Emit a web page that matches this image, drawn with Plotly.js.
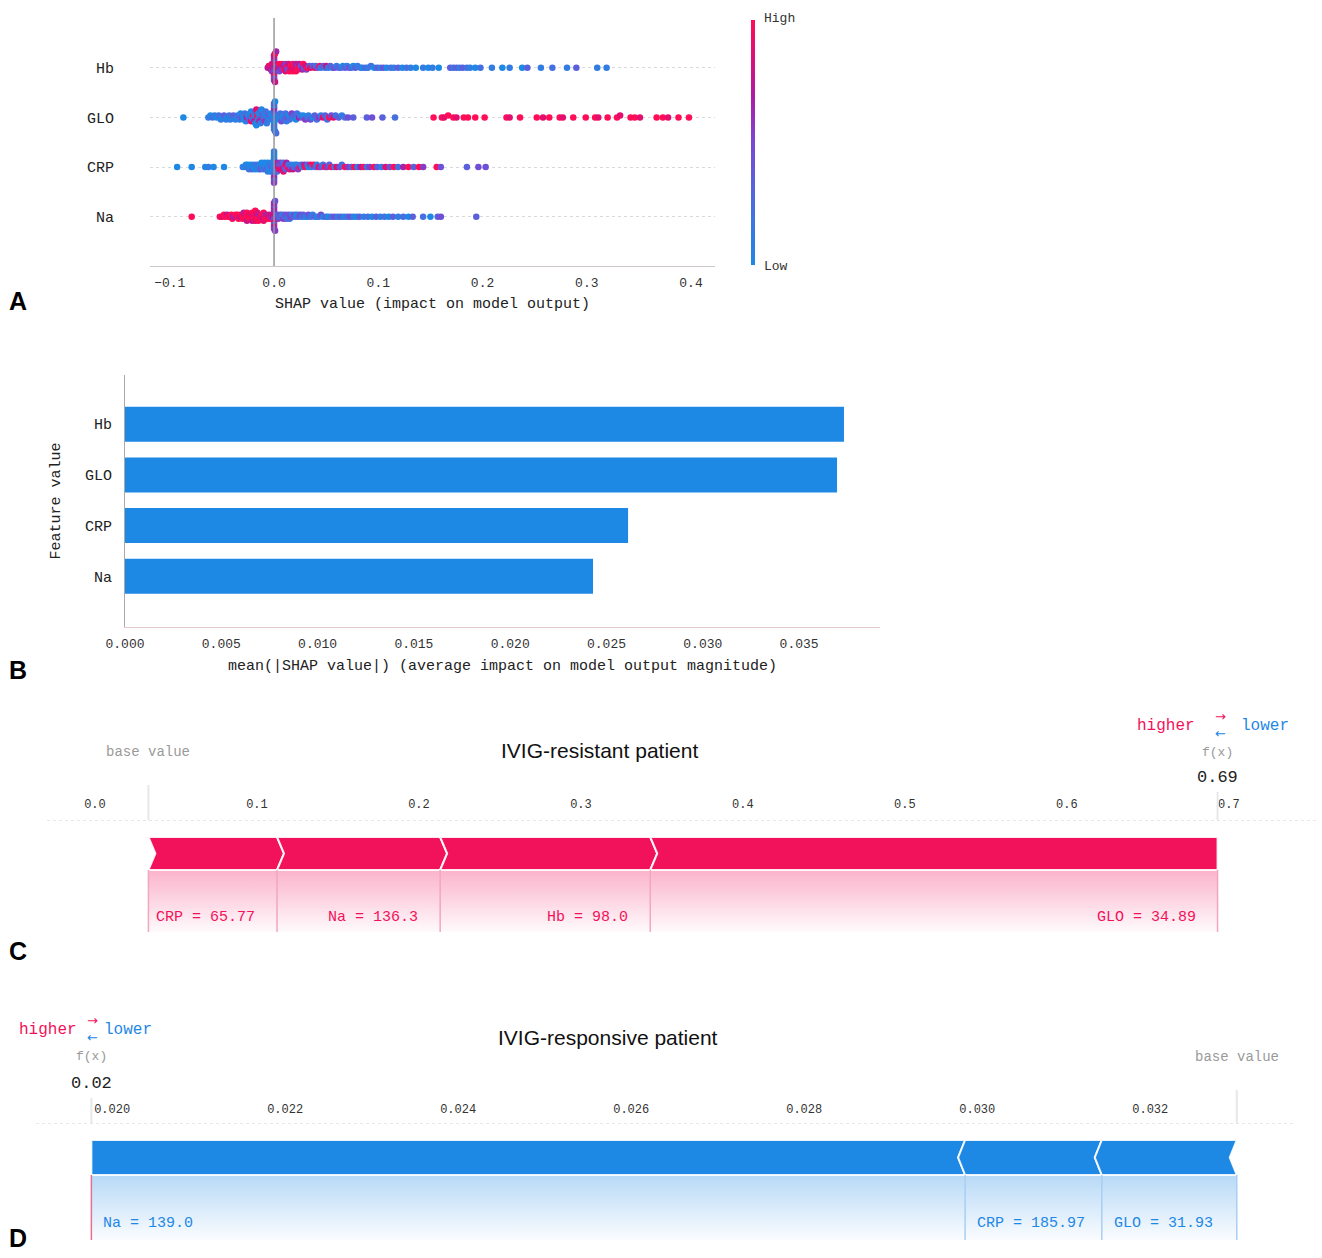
<!DOCTYPE html>
<html><head><meta charset="utf-8">
<script src="https://cdn.plot.ly/plotly-3.0.1.min.js"></script>
<style>body{margin:0;background:#fff}#chart{width:1322px;height:1258px}</style>
</head><body><div id="chart"></div>
<script>
// ---------------- DATA ----------------
const features = ['Hb','GLO','CRP','Na'];

// Panel A: SHAP values per sample and feature value (0 = low ... 9 = high)
const hbShap = [-0.006,-0.005,-0.004,-0.003,-0.003,-0.002,-0.002,-0.001,-0.001,-0.001,
0,0,0,0,0,0,0,0,0,0,0,0,
0.001,0.001,
0.002,0.003,0.003,0.004,0.005,0.005,0.006,0.007,0.007,0.008,
0.009,0.009,0.010,0.011,0.011,0.012,0.013,0.013,0.014,0.015,
0.016,0.016,0.017,0.018,0.018,0.019,0.019,0.020,0.021,0.021,
0.022,0.023,0.023,0.024,0.025,0.026,0.027,0.028,0.029,0.030,
0.031,0.032,0.034,0.035,
0.037,0.039,0.040,0.042,0.044,0.045,0.047,0.049,0.050,0.052,
0.054,0.056,0.058,0.060,0.062,0.064,0.066,0.068,0.070,0.072,
0.074,0.076,0.078,0.080,0.083,0.085,0.088,0.090,0.093,0.096,
0.099,0.102,0.105,0.108,0.112,0.115,0.119,0.123,0.127,0.131,
0.136,0.143,0.148,0.152,0.158,0.169,0.172,0.175,0.178,0.181,
0.185,0.188,0.193,0.198,0.209,0.219,0.226,0.238,0.243,0.256,
0.267,0.281,0.290,0.310,0.319];
const hbColor = [7,8,6,9,7,8,5,9,7,6,
6,5,8,4,7,6,5,9,6,4,7,5,
9,7,
6,8,5,7,9,4,6,8,5,9,
4,7,9,5,8,6,9,4,7,9,
6,9,8,9,9,7,9,8,6,9,
8,5,9,7,9,4,6,9,3,7,
5,9,3,8,
3,8,2,4,9,1,3,2,7,1,
3,2,4,1,3,2,0,3,1,4,
2,0,3,1,2,0,3,1,2,0,
3,1,4,0,2,1,3,0,2,1,
0,1,0,1,0,3,2,3,1,3,
2,1,0,2,1,0,1,0,3,1,
2,1,3,1,1];

const gloShap = [-0.087,
-0.063,-0.061,-0.059,-0.057,-0.055,-0.053,-0.051,-0.050,-0.048,-0.046,
-0.045,-0.043,-0.042,-0.040,-0.039,-0.037,-0.036,-0.035,-0.033,-0.032,
-0.031,-0.030,-0.029,-0.028,-0.027,-0.026,-0.025,-0.024,-0.023,-0.022,
-0.022,-0.021,-0.020,-0.020,-0.019,-0.019,-0.018,-0.018,-0.017,-0.017,
-0.016,-0.016,-0.015,-0.015,-0.014,-0.013,-0.013,-0.012,-0.011,-0.011,
-0.010,-0.009,-0.009,-0.008,-0.007,-0.006,-0.005,-0.004,-0.003,
-0.001,-0.001,0,0,0,0,0,0,0,0,0,0,0,0,0.001,0.001,
0.002,0.003,0.004,0.005,0.006,0.007,0.008,0.009,0.010,0.011,
0.012,0.013,0.014,0.015,0.017,0.018,0.019,0.021,0.022,0.024,
0.025,0.027,0.028,0.030,0.032,0.033,0.035,0.037,0.039,0.041,
0.043,0.045,0.047,0.049,0.051,0.053,0.055,0.057,0.059,0.062,
0.065,0.068,0.071,0.076,0.089,0.094,0.104,0.116,
0.153,0.161,0.163,0.167,0.172,0.175,0.182,0.186,0.193,0.202,
0.223,0.226,0.236,0.252,0.258,0.264,0.274,0.277,0.287,0.299,
0.308,0.311,0.320,0.329,0.332,0.342,0.346,0.351,0.367,0.373,
0.378,0.388,0.398];
const gloColor = [0,
1,0,2,1,0,2,1,0,3,1,
0,2,1,0,3,1,0,2,1,0,
4,1,0,2,1,6,0,3,1,8,
0,2,9,1,0,7,3,1,8,0,
2,9,1,0,6,2,1,0,8,3,
1,0,5,2,1,0,3,1,0,
2,0,0,2,1,3,0,4,1,6,2,0,1,3,1,0,
2,3,1,0,2,4,1,0,3,2,
1,4,0,2,5,1,3,0,2,6,
1,3,0,5,2,1,4,0,3,2,
5,1,8,3,2,9,4,8,2,3,
1,2,4,3,3,4,3,2,
9,9,8,9,9,8,9,9,9,9,
9,8,9,9,8,9,9,8,9,9,
9,8,9,9,8,9,9,8,9,9,
8,9,9];

const crpShap = [-0.093,-0.079,-0.066,-0.063,-0.058,-0.048,
-0.030,-0.028,-0.027,-0.026,-0.025,-0.024,-0.023,-0.022,-0.021,-0.020,
-0.019,-0.018,-0.017,-0.016,-0.015,-0.014,-0.013,-0.013,-0.012,-0.011,
-0.010,-0.010,-0.009,-0.008,-0.008,-0.007,-0.006,-0.006,-0.005,-0.004,
-0.004,-0.003,-0.003,-0.002,
-0.001,-0.001,0,0,0,0,0,0,0,0,0,0,0,0,0.001,0.001,
0.002,0.003,0.003,0.004,0.005,0.005,0.006,0.007,0.007,0.008,
0.009,0.009,0.010,0.011,0.011,0.012,0.013,0.014,0.015,0.016,
0.017,0.018,0.019,0.020,0.021,0.022,0.023,0.025,0.026,0.027,
0.029,0.030,0.032,0.033,0.035,0.036,0.038,0.040,0.041,0.043,
0.045,0.047,0.049,0.051,0.053,0.055,0.058,0.060,0.063,0.065,
0.068,0.071,0.074,0.077,0.080,0.083,0.086,0.089,0.092,0.096,
0.099,0.103,0.107,0.111,0.115,0.119,0.124,0.129,0.134,0.139,
0.143,0.156,0.160,0.185,0.196,0.203];
const crpColor = [0,0,0,1,0,0,
1,0,0,2,0,1,0,0,3,0,
1,0,0,2,0,1,0,3,0,1,
0,2,0,1,0,3,0,1,0,2,
0,1,0,4,
1,0,0,1,0,2,0,4,1,6,0,3,1,5,2,0,
4,6,2,7,3,8,5,9,4,7,
2,8,5,9,3,6,9,2,8,4,
1,7,2,0,3,1,5,9,2,1,
6,9,3,0,8,2,9,3,1,8,
4,2,9,5,3,9,1,8,4,2,
9,5,3,9,1,6,9,2,5,9,
3,1,8,4,9,2,6,9,3,9,
5,9,4,3,4,4];

const naShap = [-0.079,
-0.052,-0.050,-0.048,-0.047,-0.045,-0.044,-0.042,-0.041,-0.040,-0.039,
-0.037,-0.036,-0.035,-0.034,-0.033,-0.032,-0.031,-0.030,-0.030,-0.029,
-0.028,-0.028,-0.027,-0.026,-0.026,-0.025,-0.024,-0.024,-0.023,-0.022,
-0.022,-0.021,-0.021,-0.020,-0.020,-0.019,-0.019,-0.018,-0.018,-0.017,
-0.017,-0.016,-0.016,-0.015,-0.014,-0.014,-0.013,-0.012,-0.012,-0.011,
-0.010,-0.010,-0.009,-0.008,-0.007,-0.006,-0.005,-0.004,-0.003,-0.002,
-0.001,-0.001,0,0,0,0,0,0,0,0,0,0,0,0,0.001,0.001,
0.002,0.003,0.004,0.005,0.006,0.007,0.008,0.009,0.010,0.011,
0.012,0.013,0.014,0.015,0.016,0.017,0.018,0.020,0.021,0.022,
0.024,0.025,0.027,0.028,0.030,0.032,0.033,0.035,0.037,0.039,
0.041,0.043,0.045,0.047,0.050,0.052,0.055,0.058,0.061,0.064,
0.067,0.070,0.073,0.076,0.079,0.082,0.086,0.090,0.094,0.098,
0.102,0.106,0.110,0.114,0.119,0.124,0.129,0.133,0.143,0.150,
0.157,0.160,0.194];
const naColor = [9,
9,8,9,9,7,9,8,9,9,6,
9,8,9,9,7,9,8,9,9,6,
9,8,9,9,7,9,8,9,9,8,
9,9,7,9,8,9,9,8,9,9,
7,9,8,9,9,6,9,8,9,7,
9,8,9,6,9,8,7,9,6,8,
6,7,5,7,4,6,8,5,3,6,7,4,5,6,5,4,
4,3,5,2,4,3,1,5,2,4,
3,1,4,2,5,1,3,4,2,0,
3,4,1,3,2,0,4,2,1,3,
0,2,4,1,3,0,2,4,1,3,
0,2,4,1,0,3,1,2,0,3,
1,2,0,3,1,2,0,3,2,0,
3,4,3];
const shapTicks = [-0.1,0,0.1,0.2,0.3,0.4];

// Panel B: mean |SHAP|
const meanAbsShap = [0.03733,0.03697,0.02612,0.02430];   // Hb, GLO, CRP, Na
const barTicks = [0,0.005,0.010,0.015,0.020,0.025,0.030,0.035];

// Panels C, D: force plots
const baseValue = 0.033;
const resistantTitle = 'IVIG-resistant patient';
const resistantLabels = ['CRP = 65.77','Na = 136.3','Hb = 98.0','GLO = 34.89'];
const resistantShap = [0.0794,0.1007,0.1297,0.3502];
const resistantTicks = [0,0.1,0.2,0.3,0.4,0.5,0.6,0.7];
const responsiveTitle = 'IVIG-responsive patient';
const responsiveLabels = ['Na = 139.0','CRP = 185.97','GLO = 31.93'];
const responsiveShap = [-0.0101,-0.00158,-0.00156];
const responsiveTicks = [0.020,0.022,0.024,0.026,0.028,0.030,0.032];

// ---------------- LAYOUT HELPERS ----------------
const W=1322,H=1258;
const PX=x=>x/W, PY=y=>1-y/H;
const mono='Liberation Mono, DejaVu Sans Mono, monospace';
const sans='Liberation Sans Narrow, Liberation Sans, Arial, sans-serif';
const RED='#F2115B', BLUE='#1E88E5';
const shapScale=[[0,'#1E88E5'],[0.25,'#4A6DE0'],[0.5,'#7B47D4'],[0.7,'#B01A9E'],[0.85,'#DB0F78'],[1,'#FF0D57']];

function swarmOffsets(vals,rowHeight){
  const n=vals.length, mn=Math.min(...vals), mx=Math.max(...vals), nb=100;
  const q=vals.map(v=>Math.round(nb*(v-mn)/(mx-mn+1e-8)));
  const order=vals.map((_,i)=>i).sort((a,b)=>(q[a]-q[b])||(a-b));
  const ys=new Array(n).fill(0); let layer=0,last=-1;
  order.forEach(i=>{ if(q[i]!==last) layer=0; ys[i]=Math.ceil(layer/2)*((layer%2)*2-1); layer++; last=q[i]; });
  const m=Math.max(...ys.map(y=>y+1));
  return ys.map(y=>y*0.9*rowHeight/m);
}
const rowOf=f=>features.length-1-features.indexOf(f);
const rowText=[...features].reverse();

const traces=[], shapes=[], annotations=[];

// ---------- Panel A ----------
[['Hb',hbShap,hbColor],['GLO',gloShap,gloColor],['CRP',crpShap,crpColor],['Na',naShap,naColor]].forEach(([f,s,c],k)=>{
  const off=swarmOffsets(s,0.4), r=rowOf(f);
  traces.push({type:'scatter',mode:'markers',x:s,y:off.map(o=>r+o),xaxis:'x',yaxis:'y',hoverinfo:'skip',showlegend:false,
    marker:{size:6.5,color:c,cmin:0,cmax:9,colorscale:shapScale,line:{width:0},showscale:k===0,
      colorbar:{x:PX(751),xanchor:'left',xpad:0,y:PY(142.5),yanchor:'middle',ypad:0,len:245/H,lenmode:'fraction',
        thickness:4,outlinewidth:0,showticklabels:false,ticks:'',title:{text:''}}}});
});
shapes.push({type:'line',xref:'x',yref:'y domain',x0:0,x1:0,y0:0,y1:1,line:{color:'#999',width:1.5}});
annotations.push({xref:'paper',yref:'paper',x:PX(762),y:PY(18),text:'High',showarrow:false,xanchor:'left',yanchor:'middle',font:{family:mono,size:13,color:'#333'}});
annotations.push({xref:'paper',yref:'paper',x:PX(762),y:PY(267),text:'Low',showarrow:false,xanchor:'left',yanchor:'middle',font:{family:mono,size:13,color:'#333'}});

// ---------- Panel B ----------
traces.push({type:'bar',orientation:'h',x:meanAbsShap,y:features.map(rowOf),width:0.69,xaxis:'x2',yaxis:'y2',
  marker:{color:BLUE,line:{width:0}},hoverinfo:'skip',showlegend:false});

// ---------- Force plots ----------
function forcePlot(xa,ya,shap,labels,color,lineColor,fxLineColor,pxPerUnit,yTop,yBot,yGrad){
  const sum=shap.reduce((a,b)=>a+b,0), fx=baseValue+sum;
  const pos=sum>0, dir=pos?1:-1, n=7/pxPerUnit, M=(yTop+yBot)/2;
  let a=pos?baseValue:fx;
  const lo=Math.min(baseValue,fx), hi=Math.max(baseValue,fx);
  const rgb=pos?'242,17,91':'30,136,229';
  traces.push({type:'scatter',mode:'lines',x:[lo,hi,hi,lo,lo],y:[yBot,yBot,yGrad,yGrad,yBot],xaxis:xa,yaxis:ya,
    fill:'toself',line:{width:0},hoverinfo:'skip',showlegend:false,
    fillgradient:{type:'vertical',start:yGrad,stop:yBot,colorscale:[[0,'rgba('+rgb+',0.02)'],[1,'rgba('+rgb+',0.32)']]}});
  const bounds=[a];
  shap.forEach((v,i)=>{
    const b=a+Math.abs(v);
    const last=i===shap.length-1;
    const lm=(!pos && i===0)?a:a+dir*n;
    const rm=(pos && last)?b:b+dir*n;
    traces.push({type:'scatter',mode:'lines',x:[a,b,rm,b,a,lm,a],y:[yTop,yTop,M,yBot,yBot,M,yTop],xaxis:xa,yaxis:ya,
      fill:'toself',fillcolor:color,line:{color:'rgba(255,255,255,0.9)',width:2},hoverinfo:'skip',showlegend:false});
    annotations.push({xref:xa,yref:ya,x:pos?b:a,y:(yGrad+yBot)/2-16,text:labels[i],showarrow:false,
      xanchor:pos?'right':'left',xshift:pos?-20:10,yanchor:'middle',font:{family:mono,size:15,color:color}});
    a=b; bounds.push(b);
  });
  bounds.forEach(x=>{
    const isFx=Math.abs(x-fx)<1e-9;
    shapes.push({type:'line',xref:xa,yref:ya,x0:x,x1:x,y0:yBot,y1:yGrad,line:{color:isFx?fxLineColor:lineColor,width:1.5}});
  });
  shapes.push({type:'line',xref:xa+' domain',yref:ya,x0:0,x1:1,y0:0,y1:0,line:{color:'#cfcfcf',width:1,dash:'dot'}});
  return fx;
}
const fxC=forcePlot('x3','y3',resistantShap,resistantLabels,RED,'#F2A6C0','#F2A6C0',1620,-17,-50,-112);
const fxD=forcePlot('x4','y4',responsiveShap,responsiveLabels,BLUE,'#A9CFF3','#E8708F',86511,-17,-52,-117);

// vertical guide lines above axes
shapes.push({type:'line',xref:'x3',yref:'paper',x0:baseValue,x1:baseValue,y0:PY(820),y1:PY(785),line:{color:'#e4e8ea',width:2}});
shapes.push({type:'line',xref:'x3',yref:'paper',x0:fxC,x1:fxC,y0:PY(820),y1:PY(792),line:{color:'#e4e8ea',width:2}});
shapes.push({type:'line',xref:'x4',yref:'paper',x0:fxD,x1:fxD,y0:PY(1123),y1:PY(1098),line:{color:'#e4e8ea',width:2}});
shapes.push({type:'line',xref:'x4',yref:'paper',x0:baseValue,x1:baseValue,y0:PY(1123),y1:PY(1090),line:{color:'#e4e8ea',width:2}});

// Texts C
const txt=(o)=>annotations.push(Object.assign({showarrow:false,xanchor:'center',yanchor:'middle'},o));
const arrows='<span style="color:'+RED+'">→</span><br><span style="color:'+BLUE+'">←</span>';
txt({xref:'x3',yref:'paper',x:baseValue,y:PY(752),text:'base value',font:{family:mono,size:14,color:'#9a9a9a'}});
txt({xref:'paper',yref:'paper',x:PX(599),y:PY(750),text:resistantTitle,font:{family:sans,size:21,color:'#111'}});
txt({xref:'x3',yref:'paper',x:fxC,y:PY(752),text:'f(x)',font:{family:mono,size:13,color:'#9a9a9a'}});
txt({xref:'x3',yref:'paper',x:fxC,y:PY(777),text:fxC.toFixed(2),font:{family:mono,size:17,color:'#222'}});
txt({xref:'paper',yref:'paper',x:PX(1197),y:PY(726),xanchor:'right',text:'higher',font:{family:mono,size:16,color:RED}});
txt({xref:'paper',yref:'paper',x:PX(1220),y:PY(725),text:arrows,font:{family:'DejaVu Sans, sans-serif',size:13,color:RED}});
txt({xref:'paper',yref:'paper',x:PX(1239),y:PY(726),xanchor:'left',text:'lower',font:{family:mono,size:16,color:BLUE}});

// Texts D
txt({xref:'paper',yref:'paper',x:PX(79),y:PY(1030),xanchor:'right',text:'higher',font:{family:mono,size:16,color:RED}});
txt({xref:'paper',yref:'paper',x:PX(92),y:PY(1029),text:arrows,font:{family:'DejaVu Sans, sans-serif',size:13,color:RED}});
txt({xref:'paper',yref:'paper',x:PX(102),y:PY(1030),xanchor:'left',text:'lower',font:{family:mono,size:16,color:BLUE}});
txt({xref:'x4',yref:'paper',x:fxD,y:PY(1056),text:'f(x)',font:{family:mono,size:13,color:'#9a9a9a'}});
txt({xref:'x4',yref:'paper',x:fxD,y:PY(1083),text:fxD.toFixed(2),font:{family:mono,size:17,color:'#222'}});
txt({xref:'paper',yref:'paper',x:PX(608),y:PY(1037),text:responsiveTitle,font:{family:sans,size:21,color:'#111'}});
txt({xref:'x4',yref:'paper',x:baseValue,y:PY(1057),text:'base value',font:{family:mono,size:14,color:'#9a9a9a'}});

// Panel letters
[['A',301],['B',670],['C',951],['D',1238]].forEach(([t,y])=>txt({xref:'paper',yref:'paper',x:PX(18),y:PY(y),text:'<b>'+t+'</b>',font:{family:'Liberation Sans, Arial, sans-serif',size:25,color:'#000'}}));

const axBase={showgrid:false,zeroline:false,ticks:'',fixedrange:true};
const layout={
  width:W,height:H,margin:{l:0,r:0,t:0,b:0},paper_bgcolor:'#fff',plot_bgcolor:'rgba(0,0,0,0)',showlegend:false,
  font:{family:mono,size:13,color:'#333'},
  xaxis:Object.assign({},axBase,{domain:[PX(150),PX(715)],range:[-0.119,0.423],anchor:'y',tickvals:shapTicks,tickformat:'.1f',
    showline:true,linecolor:'#cdc6c6',ticklabelstandoff:4,tickfont:{family:mono,size:13,color:'#333'},
    title:{text:'SHAP value (impact on model output)',font:{family:mono,size:15,color:'#222'},standoff:7}}),
  yaxis:Object.assign({},axBase,{domain:[PY(266),PY(18)],range:[-0.99,4.0],anchor:'x',tickvals:[0,1,2,3],ticktext:rowText,
    showgrid:true,gridcolor:'#d9d9d9',griddash:'dot',gridwidth:1,showline:false,ticklabelstandoff:35,tickfont:{family:mono,size:15,color:'#222'}}),
  xaxis2:Object.assign({},axBase,{domain:[PX(125),PX(880)],range:[0,0.0392],anchor:'y2',tickvals:barTicks,tickformat:'.3f',
    showline:true,linecolor:'#e3c9cc',ticklabelstandoff:4,tickfont:{family:mono,size:13,color:'#333'},
    title:{text:'mean(|SHAP value|) (average impact on model output magnitude)',font:{family:mono,size:15,color:'#222'},standoff:8}}),
  yaxis2:Object.assign({},axBase,{domain:[PY(627),PY(375)],range:[-1,3.97],anchor:'x2',tickvals:[0,1,2,3],ticktext:rowText,
    showline:true,linecolor:'#aaa',ticklabelstandoff:9,tickfont:{family:mono,size:15,color:'#222'},
    title:{text:'Feature value',font:{family:mono,size:15,color:'#222'},standoff:20}}),
  xaxis3:Object.assign({},axBase,{domain:[PX(47),PX(1318)],range:[-0.0296,0.755],anchor:'y3',side:'top',tickvals:resistantTicks,tickformat:'.1f',
    showline:false,ticklabelstandoff:9,tickfont:{family:mono,size:12,color:'#333'}}),
  yaxis3:Object.assign({},axBase,{domain:[PY(945),PY(820)],range:[-125,0],anchor:'x3',visible:false}),
  xaxis4:Object.assign({},axBase,{domain:[PX(36),PX(1293)],range:[0.01912,0.03365],anchor:'y4',side:'top',tickvals:responsiveTicks,tickformat:'.3f',
    showline:false,ticklabelstandoff:7,tickfont:{family:mono,size:12,color:'#333'}}),
  yaxis4:Object.assign({},axBase,{domain:[PY(1250),PY(1123)],range:[-127,0],anchor:'x4',visible:false}),
  shapes:shapes, annotations:annotations
};
Plotly.newPlot('chart',traces,layout,{staticPlot:true,displayModeBar:false});
</script></body></html>
